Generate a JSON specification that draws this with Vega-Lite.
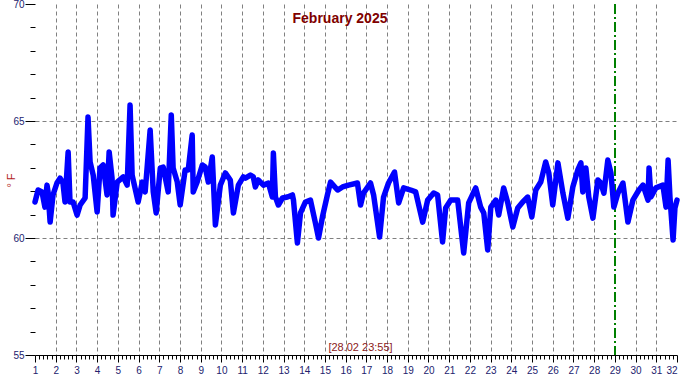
{
  "$schema": "https://vega.github.io/schema/vega-lite/v6.json",
  "width": 642,
  "height": 351,
  "autosize": {"type": "none"},
  "padding": {"left": 35, "top": 4, "right": 3, "bottom": 25},
  "background": "white",
  "config": {"view": {"stroke": null}, "font": "Liberation Sans"},
  "title": {"text": "February 2025", "color": "#800000", "fontSize": 14, "fontWeight": "bold", "anchor": "middle", "baseline": "top", "offset": 0, "dx": -16, "dy": 27},
  "data": {"values": [
    {"d":1.00,"t":61.54},{"d":1.15,"t":62.05},{"d":1.34,"t":61.97},{"d":1.48,"t":61.32},{"d":1.58,"t":62.26},{"d":1.63,"t":61.97},{"d":1.73,"t":60.68},{"d":1.87,"t":61.84},{"d":2.06,"t":62.35},{"d":2.21,"t":62.56},{"d":2.35,"t":62.35},{"d":2.45,"t":61.54},{"d":2.60,"t":63.68},{"d":2.69,"t":61.54},{"d":2.84,"t":61.54},{"d":3.03,"t":60.98},{"d":3.18,"t":61.41},{"d":3.42,"t":61.71},{"d":3.56,"t":65.17},{"d":3.66,"t":63.25},{"d":3.81,"t":62.69},{"d":4.00,"t":61.11},{"d":4.14,"t":62.99},{"d":4.29,"t":63.12},{"d":4.48,"t":61.84},{"d":4.58,"t":63.68},{"d":4.72,"t":62.56},{"d":4.77,"t":60.98},{"d":4.97,"t":62.39},{"d":5.26,"t":62.61},{"d":5.45,"t":62.26},{"d":5.59,"t":65.68},{"d":5.69,"t":62.69},{"d":5.98,"t":61.54},{"d":6.18,"t":62.39},{"d":6.32,"t":61.97},{"d":6.56,"t":64.62},{"d":6.71,"t":61.97},{"d":6.85,"t":61.07},{"d":7.05,"t":62.99},{"d":7.19,"t":63.03},{"d":7.43,"t":61.97},{"d":7.58,"t":65.26},{"d":7.67,"t":62.99},{"d":7.87,"t":62.39},{"d":8.01,"t":61.41},{"d":8.25,"t":62.91},{"d":8.40,"t":62.91},{"d":8.59,"t":64.40},{"d":8.64,"t":61.97},{"d":8.83,"t":62.39},{"d":9.08,"t":63.12},{"d":9.22,"t":63.03},{"d":9.37,"t":62.39},{"d":9.56,"t":63.46},{"d":9.71,"t":60.56},{"d":9.95,"t":62.26},{"d":10.19,"t":62.78},{"d":10.43,"t":62.48},{"d":10.58,"t":61.07},{"d":10.82,"t":62.26},{"d":11.06,"t":62.61},{"d":11.16,"t":62.56},{"d":11.40,"t":62.69},{"d":11.54,"t":62.61},{"d":11.64,"t":62.18},{"d":11.78,"t":62.48},{"d":12.03,"t":62.26},{"d":12.27,"t":62.35},{"d":12.46,"t":61.75},{"d":12.51,"t":63.63},{"d":12.61,"t":61.75},{"d":12.75,"t":61.41},{"d":12.95,"t":61.71},{"d":13.19,"t":61.75},{"d":13.43,"t":61.84},{"d":13.48,"t":61.62},{"d":13.67,"t":59.79},{"d":13.82,"t":61.07},{"d":14.06,"t":61.54},{"d":14.30,"t":61.62},{"d":14.54,"t":60.64},{"d":14.69,"t":60.00},{"d":14.88,"t":60.90},{"d":15.12,"t":61.84},{"d":15.27,"t":62.39},{"d":15.61,"t":62.05},{"d":15.85,"t":62.18},{"d":16.14,"t":62.26},{"d":16.57,"t":62.35},{"d":16.72,"t":61.41},{"d":16.86,"t":61.92},{"d":17.20,"t":62.35},{"d":17.35,"t":61.84},{"d":17.64,"t":60.04},{"d":17.83,"t":61.75},{"d":18.07,"t":62.35},{"d":18.36,"t":62.82},{"d":18.56,"t":61.50},{"d":18.80,"t":62.14},{"d":19.14,"t":62.05},{"d":19.38,"t":61.97},{"d":19.72,"t":60.68},{"d":19.96,"t":61.62},{"d":20.25,"t":61.92},{"d":20.44,"t":61.84},{"d":20.68,"t":59.83},{"d":20.83,"t":61.28},{"d":21.07,"t":61.62},{"d":21.41,"t":61.62},{"d":21.70,"t":59.36},{"d":21.94,"t":61.50},{"d":22.28,"t":62.14},{"d":22.52,"t":61.32},{"d":22.67,"t":61.07},{"d":22.86,"t":59.49},{"d":23.01,"t":61.32},{"d":23.25,"t":61.62},{"d":23.39,"t":60.98},{"d":23.63,"t":62.14},{"d":23.83,"t":61.50},{"d":24.07,"t":60.47},{"d":24.31,"t":61.28},{"d":24.55,"t":61.54},{"d":24.79,"t":61.75},{"d":24.99,"t":60.90},{"d":25.18,"t":62.05},{"d":25.42,"t":62.39},{"d":25.66,"t":63.25},{"d":25.81,"t":62.78},{"d":26.00,"t":61.41},{"d":26.25,"t":63.21},{"d":26.49,"t":61.92},{"d":26.73,"t":60.85},{"d":26.97,"t":62.18},{"d":27.21,"t":62.91},{"d":27.36,"t":63.21},{"d":27.45,"t":61.97},{"d":27.60,"t":62.99},{"d":27.74,"t":61.75},{"d":27.94,"t":60.85},{"d":28.18,"t":62.48},{"d":28.32,"t":62.35},{"d":28.47,"t":61.92},{"d":28.66,"t":63.33},{"d":28.81,"t":62.78},{"d":28.95,"t":61.32},{"d":29.15,"t":61.92},{"d":29.39,"t":62.35},{"d":29.63,"t":60.68},{"d":29.87,"t":61.62},{"d":30.16,"t":62.05},{"d":30.36,"t":62.26},{"d":30.60,"t":61.62},{"d":30.65,"t":62.99},{"d":30.74,"t":61.75},{"d":30.98,"t":62.14},{"d":31.32,"t":62.26},{"d":31.47,"t":61.32},{"d":31.57,"t":63.33},{"d":31.66,"t":61.75},{"d":31.81,"t":59.91},{"d":31.90,"t":61.28},{"d":32.00,"t":61.62}
  ]},
  "resolve": {"axis": {"x": "independent", "y": "independent"}},
  "layer": [
    {
      "mark": {"type": "line", "opacity": 0},
      "encoding": {
        "x": {"field": "d", "type": "quantitative", "scale": {"domain": [1, 32], "nice": false, "zero": false},
          "axis": {"orient": "bottom", "values": [2,3,4,5,6,7,8,9,10,11,12,13,14,15,16,17,18,19,20,21,22,23,24,25,26,27,28,30,31], "grid": true, "gridColor": "#808080", "gridDash": [4, 3], "gridWidth": 1, "ticks": false, "labels": false, "domain": false, "title": null}},
        "y": {"field": "t", "type": "quantitative", "scale": {"domain": [55, 70], "nice": false, "zero": false},
          "axis": {"orient": "left", "values": [60, 65], "grid": true, "gridColor": "#808080", "gridDash": [4, 3], "gridWidth": 1, "ticks": false, "labels": false, "domain": false, "title": null}}
      }
    },
    {
      "mark": {"type": "rule", "color": "#008000", "strokeDash": [10, 3, 2, 3], "strokeWidth": 1},
      "encoding": {"x": {"datum": 29, "type": "quantitative", "axis": null}}
    },
    {
      "mark": {"type": "line", "opacity": 0},
      "encoding": {
        "x": {"field": "d", "type": "quantitative",
          "axis": {"orient": "bottom", "values": [1.2,1.4,1.6,1.8,2.2,2.4,2.6,2.8,3.2,3.4,3.6,3.8,4.2,4.4,4.6,4.8,5.2,5.4,5.6,5.8,6.2,6.4,6.6,6.8,7.2,7.4,7.6,7.8,8.2,8.4,8.6,8.8,9.2,9.4,9.6,9.8,10.2,10.4,10.6,10.8,11.2,11.4,11.6,11.8,12.2,12.4,12.6,12.8,13.2,13.4,13.6,13.8,14.2,14.4,14.6,14.8,15.2,15.4,15.6,15.8,16.2,16.4,16.6,16.8,17.2,17.4,17.6,17.8,18.2,18.4,18.6,18.8,19.2,19.4,19.6,19.8,20.2,20.4,20.6,20.8,21.2,21.4,21.6,21.8,22.2,22.4,22.6,22.8,23.2,23.4,23.6,23.8,24.2,24.4,24.6,24.8,25.2,25.4,25.6,25.8,26.2,26.4,26.6,26.8,27.2,27.4,27.6,27.8,28.2,28.4,28.6,28.8,29.2,29.4,29.6,29.8,30.2,30.4,30.6,30.8,31.2,31.4,31.6,31.8], "grid": false, "ticks": true, "tickSize": 4, "tickColor": "#000000", "tickWidth": 1, "labels": false, "domain": false, "title": null}},
        "y": {"field": "t", "type": "quantitative",
          "axis": {"orient": "left", "values": [56,57,58,59,61,62,63,64,66,67,68,69], "grid": false, "ticks": true, "tickSize": 5, "tickColor": "#000000", "tickWidth": 1, "labels": false, "domain": false, "title": null}}
      }
    },
    {
      "mark": {"type": "line", "color": "#0000ff", "strokeWidth": 5.5, "strokeJoin": "round", "strokeCap": "round"},
      "encoding": {
        "x": {"field": "d", "type": "quantitative",
          "axis": {"orient": "bottom", "values": [1,2,3,4,5,6,7,8,9,10,11,12,13,14,15,16,17,18,19,20,21,22,23,24,25,26,27,28,29,30,31,32], "grid": false, "tickSize": 7, "tickColor": "#000000", "tickWidth": 1, "domain": true, "domainColor": "#000000", "domainWidth": 1, "labelFontSize": 10, "labelColor": "#22226e", "labelPadding": 3, "labelFont": "Liberation Sans", "labelFlush": false,
            "labelAlign": {"condition": {"test": "datum.value == 32", "value": "right"}, "value": "center"},
            "title": "[28.02 23:55]", "titleColor": "#8b1a1a", "titleFontSize": 11, "titleFontWeight": "normal", "titleFont": "Liberation Sans", "titleX": 325, "titleY": -3, "titleBaseline": "bottom", "titleAnchor": "middle"}},
        "y": {"field": "t", "type": "quantitative",
          "axis": {"orient": "left", "values": [55, 60, 65, 70], "grid": false, "tickSize": 10, "tickColor": "#000000", "tickWidth": 1, "domain": false, "labelFontSize": 10, "labelColor": "#22226e", "labelPadding": 1, "labelFont": "Liberation Sans", "labelFlush": false,
            "title": "° F", "titleColor": "#b22222", "titleFontSize": 11, "titleFontWeight": "normal", "titleFont": "Liberation Sans", "titleAngle": -90, "titleX": -24, "titleY": 176, "titleAlign": "center", "titleBaseline": "middle"}}
      }
    }
  ]
}
